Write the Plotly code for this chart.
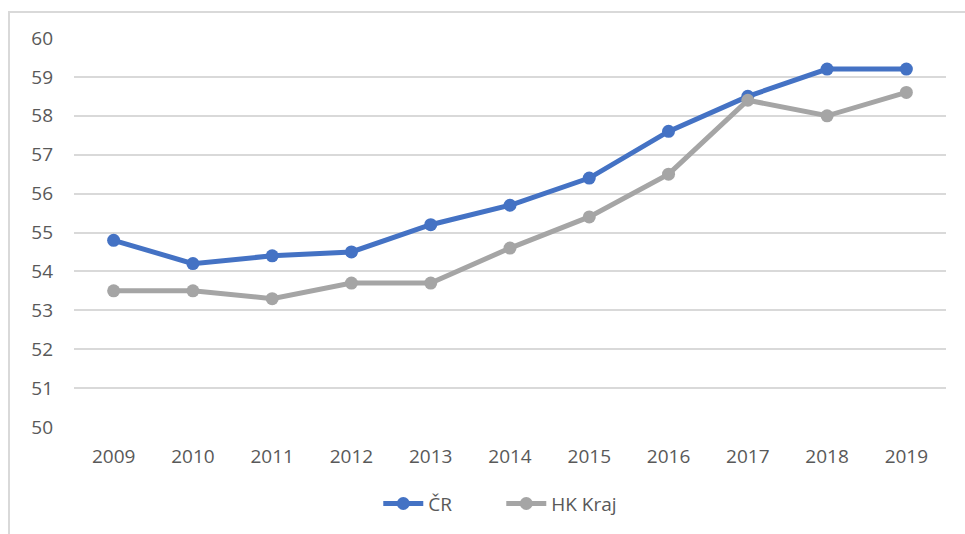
import plotly.graph_objects as go

years = ["2009", "2010", "2011", "2012", "2013", "2014", "2015", "2016", "2017", "2018", "2019"]
cr_values = [54.8, 54.2, 54.4, 54.5, 55.2, 55.7, 56.4, 57.6, 58.5, 59.2, 59.2]
hk_values = [53.5, 53.5, 53.3, 53.7, 53.7, 54.6, 55.4, 56.5, 58.4, 58.0, 58.6]
y_ticks = [50, 51, 52, 53, 54, 55, 56, 57, 58, 59, 60]

font_family = "Open Sans, Liberation Sans, sans-serif"
text_color = "#595959"
font_size = 19

fig = go.Figure()
fig.add_trace(go.Scatter(
    x=years, y=cr_values, name="ČR", mode="lines+markers",
    line=dict(color="#4472C4", width=5),
    marker=dict(color="#4472C4", size=13),
))
fig.add_trace(go.Scatter(
    x=years, y=hk_values, name="HK Kraj", mode="lines+markers",
    line=dict(color="#A5A5A5", width=5),
    marker=dict(color="#A5A5A5", size=13),
))

fig.update_layout(
    width=965, height=534,
    margin=dict(l=74, r=19, t=38, b=106),
    paper_bgcolor="white", plot_bgcolor="white",
    font=dict(family=font_family, size=font_size, color=text_color),
    showlegend=True,
    legend=dict(orientation="h", x=0.49, xanchor="center", y=-0.194, yanchor="middle",
                font=dict(size=font_size, color=text_color), itemwidth=40,
                entrywidth=68),
    xaxis=dict(type="category", range=[-0.5, len(years) - 0.5], showgrid=False,
               zeroline=False, showline=False, ticks="", ticklabelstandoff=16,
               tickfont=dict(size=font_size, color=text_color)),
    yaxis=dict(range=[50, 60], tickvals=y_ticks, showgrid=True, gridcolor="#D9D9D9",
               gridwidth=1.5, zeroline=False, showline=False, ticks="",
               ticklabelstandoff=20, tickfont=dict(size=font_size, color=text_color)),
    shapes=[dict(type="rect", xref="paper", yref="paper",
                 x0=(9 - 74) / 872, x1=(970 - 74) / 872,
                 y0=(428 - 540) / 390, y1=1 + (38 - 12) / 390,
                 line=dict(color="#D9D9D9", width=2), layer="below")],
)

fig.write_html("out.html")
